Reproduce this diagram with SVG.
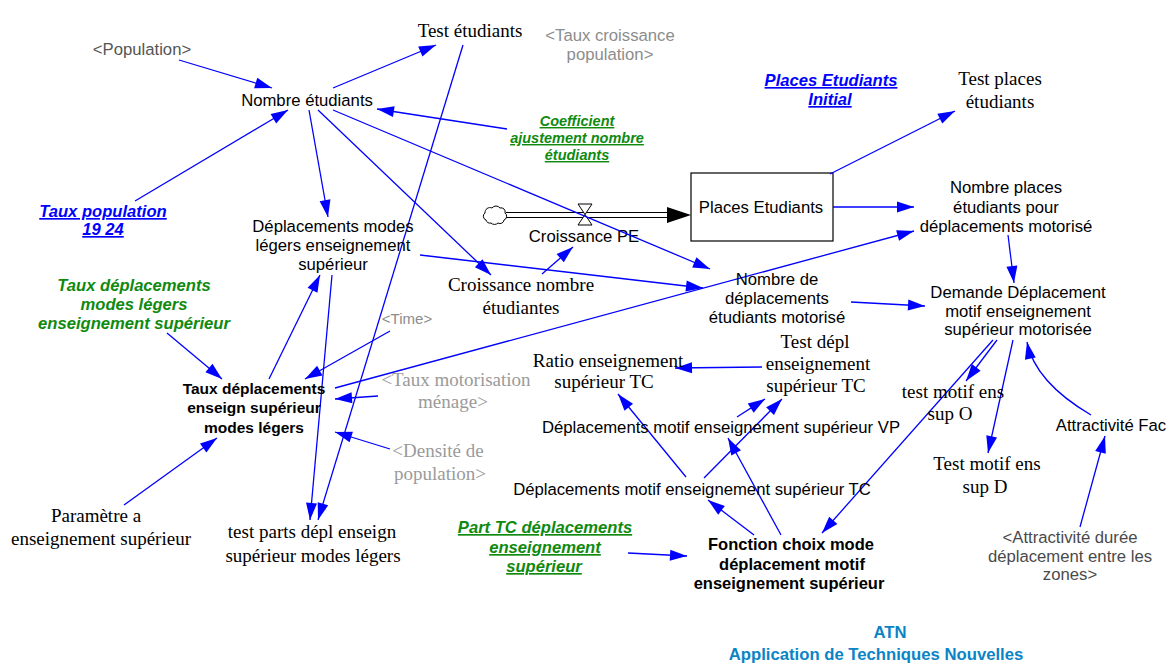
<svg xmlns="http://www.w3.org/2000/svg" width="1176" height="666" viewBox="0 0 1176 666">
  <style>
    text { text-anchor: middle; }
    .s  { font-family: "Liberation Sans", Arial, sans-serif; font-size: 16.7px; fill: #000; }
    .t  { font-family: "Liberation Serif", "Times New Roman", serif; font-size: 19px; fill: #000; }
    .b  { font-family: "Liberation Sans", Arial, sans-serif; font-size: 16.5px; font-weight: bold; fill: #000; }
    .gi { font-family: "Liberation Sans", Arial, sans-serif; font-size: 16.6px; font-weight: bold; font-style: italic; fill: #0f8a0f; }
    .bi { font-family: "Liberation Sans", Arial, sans-serif; font-size: 16.6px; font-weight: bold; font-style: italic; fill: #0000ff; text-decoration: underline; }
    .u  { text-decoration: underline; }
    .gs { font-family: "Liberation Sans", Arial, sans-serif; font-size: 16.7px; }
    .gt { font-family: "Liberation Serif", "Times New Roman", serif; font-size: 19px; fill: #9a9a9a; }
    .atn { font-family: "Liberation Sans", Arial, sans-serif; font-size: 16.7px; font-weight: bold; fill: #0b84c6; }
    .ln { fill: none; stroke: #0000ff; stroke-width: 1.3; marker-end: url(#arr); }
  </style>
  <defs>
    <marker id="arr" markerUnits="userSpaceOnUse" viewBox="-18 -7 20 14" markerWidth="20" markerHeight="14" refX="0" refY="0" orient="auto">
      <path d="M0,0 L-17,-5.5 L-17,5.5 Z" fill="#0000ff"/>
    </marker>
  </defs>

  <rect width="1176" height="666" fill="#fff"/>

  <!-- stock and flow -->
  <g id="flow-croissance-pe">
    <path d="M486,220 a4,4 0 0 1 -1,-7 a5,5 0 0 1 7,-5 a5,5 0 0 1 8,0 a4,4 0 0 1 5,5 a4,4 0 0 1 -1,7 a4,4 0 0 1 -6,3 a5,5 0 0 1 -7,0 a4,4 0 0 1 -5,-3 z" fill="#fff" stroke="#000" stroke-width="1"/>
    <line x1="506" y1="212.5" x2="668" y2="212.5" stroke="#000" stroke-width="1.2"/>
    <line x1="506" y1="217.5" x2="668" y2="217.5" stroke="#000" stroke-width="1.2"/>
    <polygon points="667,207 691,215 667,223" fill="#000"/>
    <polygon points="578,204 592,204 585,214.5" fill="#fff" stroke="#000" stroke-width="1"/>
    <polygon points="585,214.5 578,225 592,225" fill="#fff" stroke="#000" stroke-width="1"/>
    <text class="s" x="584" y="242">Croissance PE</text>
  </g>
  <g id="places-etudiants">
    <rect x="691" y="173" width="142" height="68" fill="#fff" stroke="#000" stroke-width="1.2"/>
    <text class="s" x="761" y="213">Places Etudiants</text>
  </g>

  <!-- connectors -->
  <g id="connectors">
    <line class="ln" x1="179" y1="60" x2="272" y2="88"/>
    <line class="ln" x1="135" y1="201" x2="288" y2="110"/>
    <line class="ln" x1="333" y1="88" x2="436" y2="45"/>
    <line class="ln" x1="507" y1="129" x2="377" y2="109"/>
    <line class="ln" x1="309" y1="110" x2="328" y2="217"/>
    <line class="ln" x1="318" y1="110" x2="491" y2="275"/>
    <line class="ln" x1="333" y1="110" x2="710" y2="269"/>
    <line class="ln" x1="463" y1="45" x2="318" y2="520"/>
    <line class="ln" x1="332" y1="275" x2="310" y2="520"/>
    <line class="ln" x1="269" y1="379" x2="320" y2="275"/>
    <line class="ln" x1="167" y1="333" x2="222" y2="379"/>
    <line class="ln" x1="390" y1="331" x2="305" y2="379"/>
    <line class="ln" x1="335" y1="388" x2="914" y2="231"/>
    <line class="ln" x1="378" y1="396" x2="335" y2="399"/>
    <line class="ln" x1="390" y1="449" x2="335" y2="432"/>
    <line class="ln" x1="124" y1="505" x2="217" y2="438"/>
    <line class="ln" x1="420" y1="255" x2="703" y2="288"/>
    <line class="ln" x1="542" y1="274" x2="573" y2="247"/>
    <line class="ln" x1="833" y1="207" x2="914" y2="207"/>
    <line class="ln" x1="830" y1="174" x2="955" y2="111"/>
    <line class="ln" x1="1008" y1="235" x2="1014" y2="283"/>
    <line class="ln" x1="851" y1="302" x2="925" y2="306"/>
    <path class="ln" d="M1091,415 Q1035,382 1027,342"/>
    <line class="ln" x1="1080" y1="527" x2="1105" y2="436"/>
    <line class="ln" x1="1013" y1="340" x2="988" y2="453"/>
    <line class="ln" x1="997" y1="340" x2="966" y2="381"/>
    <line class="ln" x1="993" y1="340" x2="822" y2="533"/>
    <line class="ln" x1="762" y1="367" x2="675" y2="368"/>
    <line class="ln" x1="737" y1="417" x2="765" y2="399"/>
    <line class="ln" x1="704" y1="478" x2="782" y2="399"/>
    <line class="ln" x1="686" y1="477" x2="618" y2="394"/>
    <line class="ln" x1="754" y1="535" x2="708" y2="500"/>
    <line class="ln" x1="781" y1="535" x2="728" y2="438"/>
    <line class="ln" x1="628" y1="553" x2="687" y2="556"/>
  </g>

  <!-- variables -->
  <g id="population"><text class="gs" x="142" y="55" fill="#555">&lt;Population&gt;</text></g>
  <g id="nombre-etudiants"><text class="s" x="307" y="106">Nombre étudiants</text></g>
  <g id="test-etudiants"><text class="t" x="470" y="37">Test étudiants</text></g>
  <g id="taux-croissance-population">
    <text class="gs" x="610" y="41" fill="#8c8c8c">&lt;Taux croissance</text>
    <text class="gs" x="610" y="60" fill="#8c8c8c">population&gt;</text>
  </g>
  <g id="coefficient-ajustement">
    <text class="gi u" style="font-size:14.5px" x="577" y="126">Coefficient</text>
    <text class="gi u" style="font-size:14.5px" x="577" y="143">ajustement nombre</text>
    <text class="gi u" style="font-size:14.5px" x="577" y="160">étudiants</text>
  </g>
  <g id="places-etudiants-initial">
    <text class="bi" x="831" y="86">Places Etudiants</text>
    <text class="bi" x="830" y="105">Initial</text>
  </g>
  <g id="test-places-etudiants">
    <text class="t" x="1000" y="85">Test places</text>
    <text class="t" x="1000" y="108">étudiants</text>
  </g>
  <g id="taux-population-19-24">
    <text class="bi" x="103" y="217">Taux population</text>
    <text class="bi" x="103" y="235">19 24</text>
  </g>
  <g id="deplacements-modes-legers">
    <text class="s" x="333" y="232">Déplacements modes</text>
    <text class="s" x="333" y="251">légers enseignement</text>
    <text class="s" x="333" y="269.5">supérieur</text>
  </g>
  <g id="nombre-places-motorise">
    <text class="s" x="1006" y="193">Nombre places</text>
    <text class="s" x="1006" y="213">étudiants pour</text>
    <text class="s" x="1006" y="232">déplacements motorisé</text>
  </g>
  <g id="croissance-nombre-etudiantes">
    <text class="t" x="521" y="291">Croissance nombre</text>
    <text class="t" x="521" y="314">étudiantes</text>
  </g>
  <g id="nombre-deplacements-motorise">
    <text class="s" x="777" y="285">Nombre de</text>
    <text class="s" x="777" y="304">déplacements</text>
    <text class="s" x="777" y="323">étudiants motorisé</text>
  </g>
  <g id="demande-deplacement">
    <text class="s" x="1018" y="298">Demande Déplacement</text>
    <text class="s" x="1018" y="317">motif enseignement</text>
    <text class="s" x="1018" y="335">supérieur motorisée</text>
  </g>
  <g id="taux-deplacements-modes-legers">
    <text class="gi" x="134" y="291">Taux déplacements</text>
    <text class="gi" x="134" y="310">modes légers</text>
    <text class="gi" x="134" y="329">enseignement supérieur</text>
  </g>
  <g id="time"><text class="gs" style="font-size:15px" x="407" y="324" fill="#8c8c8c">&lt;Time&gt;</text></g>
  <g id="taux-deplacements-enseign">
    <text class="b" style="font-size:15.5px" x="254" y="394">Taux déplacements</text>
    <text class="b" style="font-size:15.5px" x="254" y="413">enseign supérieur</text>
    <text class="b" style="font-size:15.5px" x="254" y="433">modes légers</text>
  </g>
  <g id="taux-motorisation-menage">
    <text class="gt" x="456" y="386">&lt;Taux motorisation</text>
    <text class="gt" x="453" y="408">ménage&gt;</text>
  </g>
  <g id="densite-population">
    <text class="gt" x="438" y="457">&lt;Densité de</text>
    <text class="gt" x="440" y="480">population&gt;</text>
  </g>
  <g id="ratio-enseignement-tc">
    <text class="t" x="608" y="367">Ratio enseignement</text>
    <text class="t" x="604" y="388">supérieur TC</text>
  </g>
  <g id="test-depl-enseignement-tc">
    <text class="t" x="815" y="348">Test dépl</text>
    <text class="t" x="818" y="370">enseignement</text>
    <text class="t" x="816" y="392">supérieur TC</text>
  </g>
  <g id="deplacements-motif-vp"><text class="s" x="721" y="433">Déplacements motif enseignement supérieur VP</text></g>
  <g id="deplacements-motif-tc"><text class="s" x="692" y="495">Déplacements motif enseignement supérieur TC</text></g>
  <g id="test-motif-ens-sup-o">
    <text class="t" x="953" y="398">test motif ens</text>
    <text class="t" x="950" y="420">sup O</text>
  </g>
  <g id="test-motif-ens-sup-d">
    <text class="t" x="987" y="470">Test motif ens</text>
    <text class="t" x="985" y="493">sup D</text>
  </g>
  <g id="attractivite-fac"><text class="s" x="1111" y="431">Attractivité Fac</text></g>
  <g id="attractivite-duree">
    <text class="gs" x="1070" y="543" fill="#4a4a4a">&lt;Attractivité durée</text>
    <text class="gs" x="1070" y="562" fill="#4a4a4a">déplacement entre les</text>
    <text class="gs" x="1070" y="580" fill="#4a4a4a">zones&gt;</text>
  </g>
  <g id="parametre-a">
    <text class="t" x="96" y="522">Paramètre a</text>
    <text class="t" x="101" y="545">enseignement supérieur</text>
  </g>
  <g id="test-parts-depl">
    <text class="t" x="312" y="538">test parts dépl enseign</text>
    <text class="t" x="313" y="562">supérieur modes légers</text>
  </g>
  <g id="part-tc-deplacements">
    <text class="gi u" x="545" y="533">Part TC déplacements</text>
    <text class="gi u" x="545" y="553">enseignement</text>
    <text class="gi u" x="544" y="572">supérieur</text>
  </g>
  <g id="fonction-choix-mode">
    <text class="b" x="791" y="550">Fonction choix mode</text>
    <text class="b" x="792" y="570">déplacement motif</text>
    <text class="b" x="789" y="589">enseignement supérieur</text>
  </g>

  <!-- footer -->
  <g id="footer">
    <text class="atn" x="890" y="638">ATN</text>
    <text class="atn" x="876" y="660">Application de Techniques Nouvelles</text>
  </g>
</svg>
